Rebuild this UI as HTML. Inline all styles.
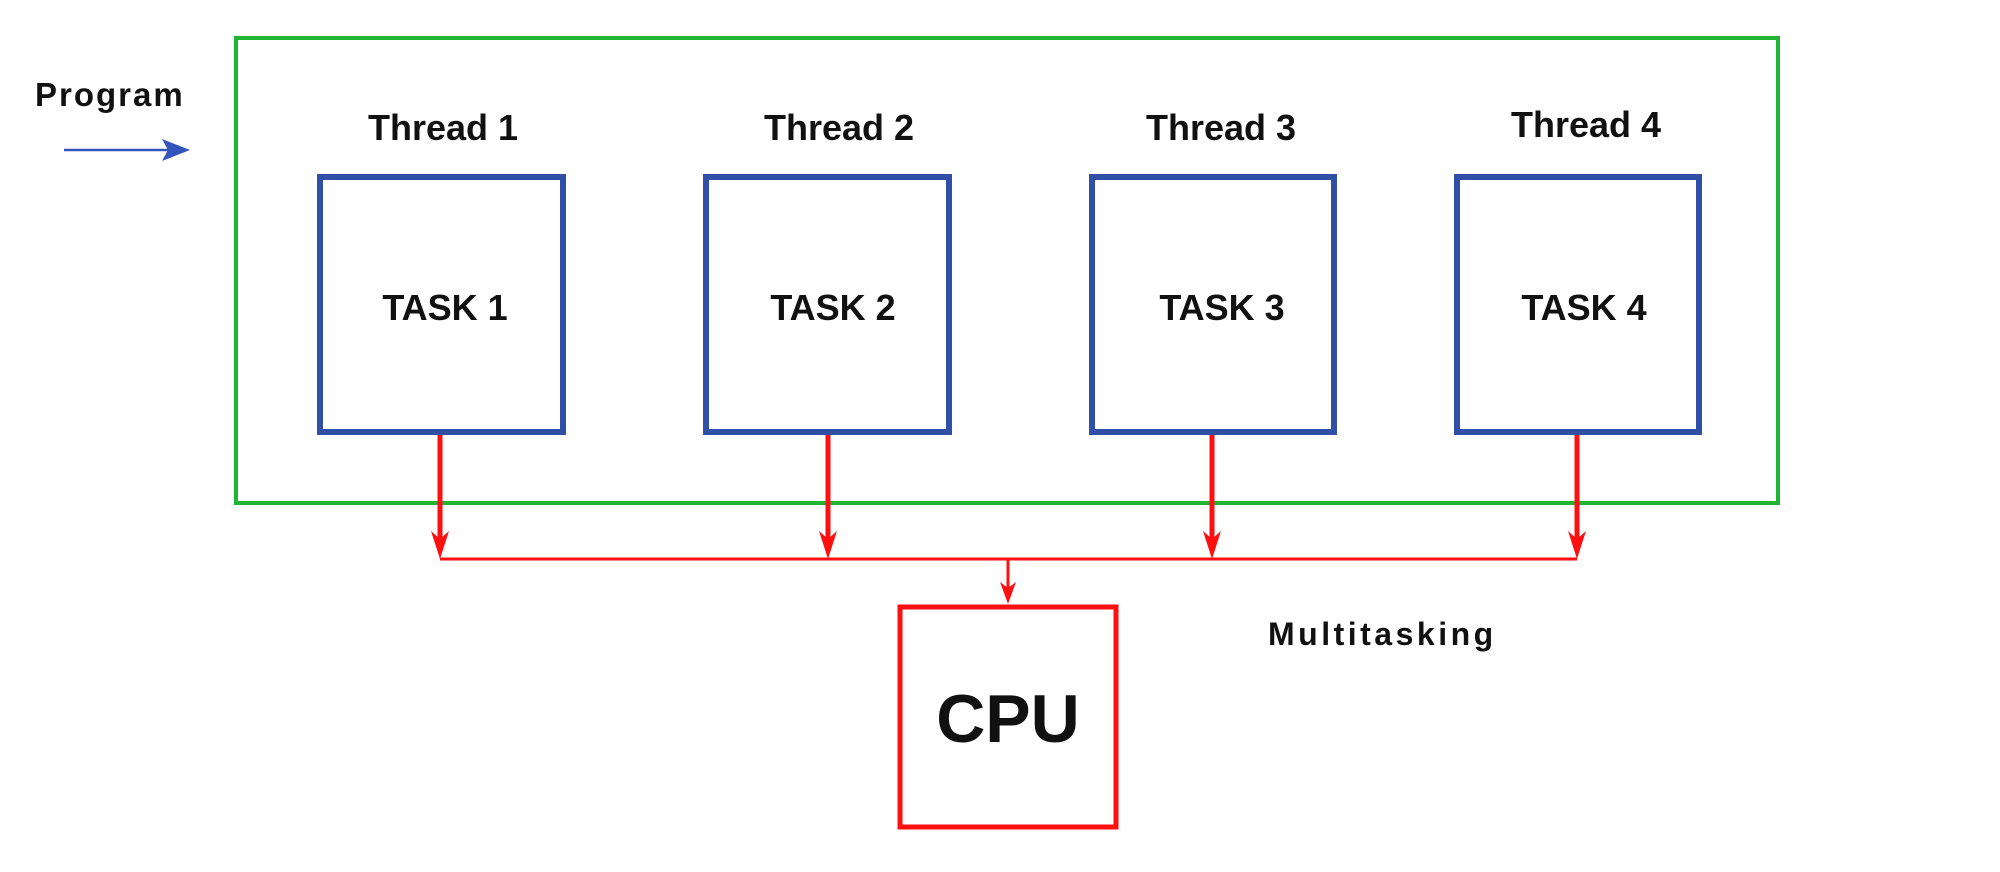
<!DOCTYPE html>
<html><head><meta charset="utf-8"><style>
html,body{margin:0;padding:0;background:#fff;}
svg{display:block;}
text{font-family:"Liberation Sans",sans-serif;fill:#111;}
</style></head><body>
<svg width="2000" height="872" viewBox="0 0 2000 872" xmlns="http://www.w3.org/2000/svg">
<rect x="0" y="0" width="2000" height="872" fill="#fff"/>
<!-- green program box -->
<rect x="236" y="38" width="1542" height="465" fill="none" stroke="#1fb532" stroke-width="4"/>
<!-- Program label + arrow -->
<text x="35" y="106" font-size="33" font-weight="bold" letter-spacing="2">Program</text>
<line x1="64" y1="150" x2="178" y2="150" stroke="#3355bb" stroke-width="2.5"/>
<path d="M190 150 L162 139 L168 150 L162 161 Z" fill="#3355bb"/>
<!-- task boxes -->
<g fill="none" stroke="#3050a8" stroke-width="6">
<rect x="320" y="177" width="243" height="255"/>
<rect x="706" y="177" width="243" height="255"/>
<rect x="1092" y="177" width="242" height="255"/>
<rect x="1457" y="177" width="242" height="255"/>
</g>
<g font-size="36" font-weight="bold" text-anchor="middle">
<text x="443" y="140">Thread 1</text>
<text x="839" y="140">Thread 2</text>
<text x="1221" y="140">Thread 3</text>
<text x="1586" y="137">Thread 4</text>
<text x="445" y="320">TASK 1</text>
<text x="833" y="320">TASK 2</text>
<text x="1222" y="320">TASK 3</text>
<text x="1584" y="320">TASK 4</text>
</g>
<!-- red connectors -->
<g stroke="#ff1010" fill="none">
<line x1="440" y1="435" x2="440" y2="545" stroke-width="5"/>
<line x1="828" y1="435" x2="828" y2="545" stroke-width="5"/>
<line x1="1212" y1="435" x2="1212" y2="545" stroke-width="5"/>
<line x1="1577" y1="435" x2="1577" y2="545" stroke-width="5"/>
<line x1="440" y1="559" x2="1577" y2="559" stroke-width="3"/>
<line x1="1008" y1="559" x2="1008" y2="592" stroke-width="3"/>
</g>
<g fill="#ff1010">
<path d="M440 559 L431 531 L440 539 L449 531 Z"/>
<path d="M828 559 L819 531 L828 539 L837 531 Z"/>
<path d="M1212 559 L1203 531 L1212 539 L1221 531 Z"/>
<path d="M1577 559 L1568 531 L1577 539 L1586 531 Z"/>
<path d="M1008 604 L1000 582 L1008 588 L1016 582 Z"/>
</g>
<!-- CPU -->
<rect x="900" y="607" width="216" height="220" fill="none" stroke="#ff1010" stroke-width="5"/>
<text x="1008" y="742" font-size="68" font-weight="bold" text-anchor="middle">CPU</text>
<text x="1268" y="645" font-size="32" font-weight="bold" letter-spacing="3.5">Multitasking</text>
</svg>
</body></html>
